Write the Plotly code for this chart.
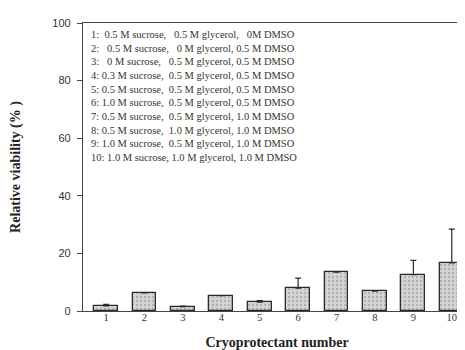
import plotly.graph_objects as go

categories = [1, 2, 3, 4, 5, 6, 7, 8, 9, 10]
viability = [1.8, 6.3, 1.5, 5.3, 3.1, 7.9, 13.5, 6.9, 12.6, 16.7]
error_up = [0.5, 0.0, 0.2, 0.0, 0.5, 3.5, 0.0, 0.0, 5.0, 11.7]
y_ticks = [0, 20, 40, 60, 80, 100]
legend_lines = [
    "1:  0.5 M sucrose,   0.5 M glycerol,   0M DMSO",
    "2:   0.5 M sucrose,   0 M glycerol, 0.5 M DMSO",
    "3:   0 M sucrose,   0.5 M glycerol, 0.5 M DMSO",
    "4: 0.3 M sucrose,  0.5 M glycerol, 0.5 M DMSO",
    "5: 0.5 M sucrose,  0.5 M glycerol, 0.5 M DMSO",
    "6: 1.0 M sucrose,  0.5 M glycerol, 0.5 M DMSO",
    "7: 0.5 M sucrose,  0.5 M glycerol, 1.0 M DMSO",
    "8: 0.5 M sucrose,  1.0 M glycerol, 1.0 M DMSO",
    "9: 1.0 M sucrose,  0.5 M glycerol, 1.0 M DMSO",
    "10: 1.0 M sucrose, 1.0 M glycerol, 1.0 M DMSO",
]

fig = go.Figure()
fig.add_trace(go.Bar(
    x=categories, y=viability, width=0.62,
    marker=dict(color="#cfcfcf", line=dict(color="#2a2a2a", width=1.3),
                pattern=dict(shape=".", fgcolor="#8a8a8a", bgcolor="#d4d4d4", size=4, solidity=0.25)),
    error_y=dict(type="data", symmetric=False, array=error_up, arrayminus=[0]*len(error_up),
                 color="#2a2a2a", thickness=1.2, width=3),
    showlegend=False,
))

serif = "Liberation Serif, Times New Roman, serif"
fig.add_annotation(
    x=0, y=1, xref="paper", yref="paper", xanchor="left", yanchor="top",
    xshift=6, yshift=-4,
    text="<br>".join(legend_lines), align="left", showarrow=False,
    font=dict(family=serif, size=10.5, color="#333333"),
)

fig.update_layout(
    width=465, height=350,
    margin=dict(l=75, r=2, t=15, b=47),
    paper_bgcolor="white", plot_bgcolor="white",
    bargap=0,
    xaxis=dict(range=[0.4, 10.5], tickvals=categories, ticks="", showline=True,
               linecolor="#444", linewidth=1.2, mirror=True, showgrid=False, zeroline=False,
               ticklabelstandoff=-4, automargin=False,
               tickfont=dict(family=serif, size=10.5, color="#333"),
               title=dict(text="<b>Cryoprotectant number</b>", standoff=15,
                          font=dict(family=serif, size=14, color="#222"))),
    yaxis=dict(range=[0, 100], tickvals=y_ticks, ticks="outside", ticklen=5, tickcolor="#444",
               showline=True, linecolor="#444", linewidth=1.2, mirror=True, showgrid=False,
               zeroline=False, automargin=False, ticklabelstandoff=4,
               tickfont=dict(family="Liberation Sans, Arial, sans-serif", size=11, color="#333"),
               title=dict(text="<b>Relative viability (% )</b>", standoff=30,
                          font=dict(family=serif, size=14, color="#222"))),
)

fig.write_html("out.html")
